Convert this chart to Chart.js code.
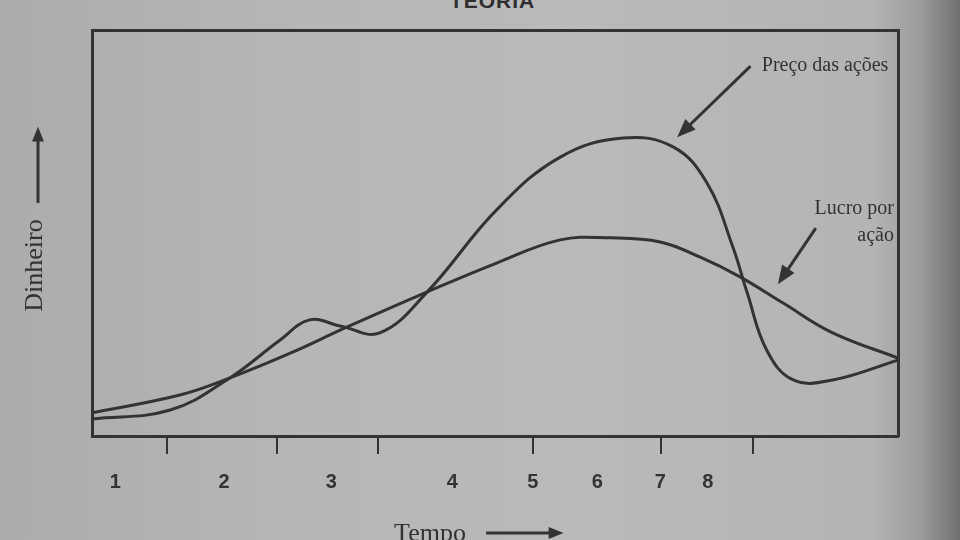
<!DOCTYPE html>
<html>
<head>
  <meta charset="utf-8">
  <title>Teoria</title>
  <style>
    html, body { margin: 0; padding: 0; }
    body {
      width: 960px; height: 540px; overflow: hidden; position: relative;
      background: linear-gradient(to right, #acacac 0%, #b6b6b6 30%, #bababa 60%, #b4b4b4 91%, #9a9a9a 96%, #707070 100%);
    }
    #title {
      position: absolute; left: 0; width: 985px; top: -11px; text-align: center;
      font-family: 'Liberation Sans', Arial, sans-serif; font-weight: bold; font-size: 21px;
      color: #2e2e2e; letter-spacing: 1px;
    }
    #chart-container { position: absolute; left: 0; top: 0; width: 960px; height: 540px; }
  </style>
</head>
<body>
  <div id="title">TEORIA</div>
  <div id="chart-container">
    <canvas id="teoria-chart" width="960" height="540"></canvas>
  </div>

  <script src="https://cdn.jsdelivr.net/npm/chart.js"></script>
  <script>
    // Preço das ações (x = tempo, y = dinheiro, escala 0-100)
    const precoX = [0, 9.7, 17.1, 23.3, 27.0, 30.8, 35.7, 41.6, 50.2, 58.1, 65.9, 72.1, 76.3, 79.5, 81.3, 83.7, 87.0, 91.9, 100];
    const precoY = [4.2, 6.4, 14.3, 23.6, 28.6, 27.1, 25.4, 35.5, 55.7, 68.7, 73.4, 71.2, 62.3, 46.6, 35.2, 21.2, 13.8, 13.8, 18.7];

    // Lucro por ação
    const lucroX = [0, 10.9, 17.1, 24.6, 31.6, 41.6, 50.2, 58.1, 64.3, 70.5, 75.4, 80.4, 85.7, 91.9, 100];
    const lucroY = [5.7, 10.1, 14.3, 20.4, 26.8, 35.5, 42.6, 48.3, 48.8, 47.8, 44.1, 39.2, 32.8, 25.4, 19.2];

    // marcas do eixo do tempo e rótulos 1-8
    const tickMarks = [9.3, 22.9, 35.5, 54.7, 70.6, 82.0];
    const timeLabels = ['1', '2', '3', '4', '5', '6', '7', '8'];
    const labelPos = [2.9, 16.4, 29.7, 44.7, 54.7, 62.7, 70.5, 76.4];

    const ink = '#333333';

    // textos e setas das anotações, em unidades dos eixos
    const notes = [
      { lines: ['Preço das ações'], x: 83.1, y: 91.1, align: 'left' },
      { lines: ['Lucro por', 'ação'], x: 99.5, y: 55.9, align: 'right' }
    ];
    const arrows = [
      { from: [81.7, 91.1], to: [72.6, 73.6], head: 20 },
      { from: [89.8, 51.2], to: [85.1, 37.4], head: 20 },
      { from: [-6.7, 57.4], to: [-6.7, 76.2], head: 16 },   // Dinheiro
      { from: [48.9, -23.9], to: [58.5, -23.9], head: 16 }  // Tempo
    ];

    function toPoints(xs, ys) {
      return xs.map((x, i) => ({ x: x, y: ys[i] }));
    }

    const notesPlugin = {
      id: 'notes',
      afterDatasetsDraw(chart) {
        const ctx = chart.ctx;
        const sx = chart.scales.x, sy = chart.scales.y;
        ctx.save();
        ctx.fillStyle = ink;
        ctx.strokeStyle = ink;
        ctx.font = '20px "Liberation Serif", serif';
        ctx.textBaseline = 'middle';
        notes.forEach(n => {
          ctx.textAlign = n.align;
          n.lines.forEach((t, i) => {
            ctx.fillText(t, sx.getPixelForValue(n.x), sy.getPixelForValue(n.y) + i * 27);
          });
        });
        arrows.forEach(a => {
          const x1 = sx.getPixelForValue(a.from[0]), y1 = sy.getPixelForValue(a.from[1]);
          const x2 = sx.getPixelForValue(a.to[0]), y2 = sy.getPixelForValue(a.to[1]);
          const ang = Math.atan2(y2 - y1, x2 - x1);
          const h = a.head;
          ctx.lineWidth = 3;
          ctx.beginPath();
          ctx.moveTo(x1, y1);
          ctx.lineTo(x2 - h * 0.5 * Math.cos(ang), y2 - h * 0.5 * Math.sin(ang));
          ctx.stroke();
          ctx.beginPath();
          ctx.moveTo(x2, y2);
          ctx.lineTo(x2 - h * Math.cos(ang - 0.38), y2 - h * Math.sin(ang - 0.38));
          ctx.lineTo(x2 - h * Math.cos(ang + 0.38), y2 - h * Math.sin(ang + 0.38));
          ctx.closePath();
          ctx.fill();
        });
        ctx.restore();
      }
    };

    const lineStyle = {
      borderColor: ink,
      borderWidth: 3,
      pointRadius: 0,
      fill: false,
      tension: 0.4
    };

    new Chart(document.getElementById('teoria-chart').getContext('2d'), {
      type: 'line',
      data: {
        datasets: [
          Object.assign({ label: 'Preço das ações', data: toPoints(precoX, precoY) }, lineStyle),
          Object.assign({ label: 'Lucro por ação', data: toPoints(lucroX, lucroY) }, lineStyle)
        ]
      },
      options: {
        responsive: false,
        animation: false,
        events: [],
        layout: { padding: { top: 22, right: 54, left: 0, bottom: 0 } },
        plugins: {
          legend: { display: false },
          tooltip: { enabled: false },
          title: { display: false }
        },
        scales: {
          x: {
            type: 'linear', position: 'bottom', min: 0, max: 100,
            border: { display: true, color: ink, width: 3 },
            grid: { drawOnChartArea: false, drawTicks: true, tickLength: 18, color: ink, lineWidth: 2 },
            ticks: { display: false },
            afterBuildTicks: s => { s.ticks = tickMarks.map(v => ({ value: v })); },
            afterFit: s => { s.height = 20; }
          },
          xl: {
            type: 'linear', position: 'bottom', min: 0, max: 100,
            border: { display: false },
            grid: { display: false },
            ticks: {
              autoSkip: false, maxRotation: 0, color: ink, padding: 6,
              font: { family: 'Liberation Sans', weight: 'bold', size: 20 },
              callback: (v, i) => timeLabels[i]
            },
            afterBuildTicks: s => { s.ticks = labelPos.map(v => ({ value: v })); },
            title: {
              display: true, text: 'Tempo\u2003\u2003\u2003\u2003\u2003', color: ink,
              font: { family: 'Liberation Serif', size: 26 },
              padding: { top: 0, bottom: -10 }
            },
            afterFit: s => { s.height = 84; }
          },
          xt: {
            type: 'linear', position: 'top', min: 0, max: 100,
            border: { display: true, color: ink, width: 3 },
            grid: { display: false },
            ticks: { display: false }
          },
          y: {
            type: 'linear', position: 'left', min: 0, max: 100,
            border: { display: true, color: ink, width: 3 },
            grid: { display: false },
            ticks: { display: false },
            title: {
              display: true, text: 'Dinheiro\u2003\u2003\u2002', color: ink,
              font: { family: 'Liberation Serif', size: 26 },
              padding: { top: 20, bottom: 0 }
            },
            afterFit: s => { s.width = 92; }
          },
          yr: {
            type: 'linear', position: 'right', min: 0, max: 100,
            border: { display: true, color: ink, width: 3 },
            grid: { display: false },
            ticks: { display: false }
          }
        }
      },
      plugins: [notesPlugin]
    });
  </script>
</body>
</html>
